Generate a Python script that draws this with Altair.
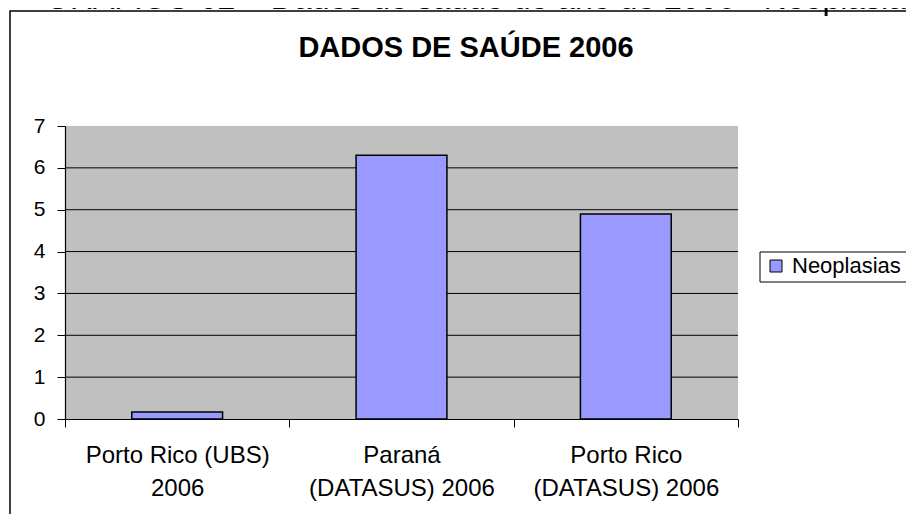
import json
import altair as alt
import pandas as pd

# ---- data ----
categories = ["Porto Rico (UBS) 2006", "Paraná (DATASUS) 2006", "Porto Rico (DATASUS) 2006"]
label_lines = [["Porto Rico (UBS)", "2006"], ["Paraná", "(DATASUS) 2006"], ["Porto Rico", "(DATASUS) 2006"]]
values = [0.17, 6.3, 4.9]
series_name = "Neoplasias"
y_ticks = [0, 1, 2, 3, 4, 5, 6, 7]
grid_values = [1, 2, 3, 4, 5, 6]
chart_title = "DADOS DE SAÚDE 2006"
page_caption = "GRÁFICO 02 – Dados de saúde do ano de 2006 - Neoplasias"

FONT = "Liberation Sans, Arial, sans-serif"

df = pd.DataFrame({"categoria": categories, "value": values, "serie": [series_name] * len(categories)})
grid_df = pd.DataFrame({"value": grid_values})
one = alt.Data(values=[{"k": 1}])

# label expression for wrapped axis labels
expr = "datum.label"
for cat, lines in reversed(list(zip(categories, label_lines))):
    expr = f"datum.label == {json.dumps(cat)} ? {json.dumps(lines)} : ({expr})"

x_enc = alt.X(
    "categoria:N",
    sort=categories,
    scale=alt.Scale(paddingInner=0, paddingOuter=0),
    axis=alt.Axis(
        title=None, labelExpr=expr, labelAngle=0, labelFontSize=24, labelFont=FONT,
        labelColor="black", labelPadding=16, labelLineHeight=33, tickBand="extent",
        tickSize=8, tickColor="black", domainColor="black", domainWidth=1.2,
        labelBaseline="top", labelLimit=400,
    ),
)
y_enc = alt.Y(
    "value:Q",
    scale=alt.Scale(domain=[0, 7], nice=False),
    axis=alt.Axis(
        title=None, values=y_ticks, grid=False, labelFontSize=21, labelFont=FONT,
        labelColor="black", labelPadding=12, tickSize=8, tickColor="black",
        domainColor="black", domainWidth=1.2,
    ),
)

grid = alt.Chart(grid_df).mark_rule(color="black", strokeWidth=1).encode(y=y_enc)

bars = alt.Chart(df).mark_bar(
    width=alt.RelativeBandSize(0.405), stroke="black", strokeWidth=1.5
).encode(
    x=x_enc,
    y=y_enc,
    color=alt.Color(
        "serie:N",
        scale=alt.Scale(range=["#9999FF"]),
        legend=alt.Legend(
            title=None, orient="none", legendX=700, legendY=129, symbolType="square",
            symbolSize=144, symbolStrokeColor="black", symbolStrokeWidth=1,
            labelFontSize=22, labelFont=FONT, labelColor="black", labelOffset=5,
            padding=0,
        ),
    ),
)

# decorative frame, caption, title, legend box
frame = alt.Chart(one).mark_rect(fill=None, stroke="black", strokeWidth=1.5).encode(
    x=alt.value(-55), x2=alt.value(1000), y=alt.value(-115), y2=alt.value(600)
)
legend_box = alt.Chart(one).mark_rect(fill="white", stroke="black", strokeWidth=1).encode(
    x=alt.value(695), x2=alt.value(900), y=alt.value(126), y2=alt.value(156)
)
caption = alt.Chart(one).mark_text(
    text=page_caption, font=FONT, fontSize=32, align="left", baseline="alphabetic", color="black"
).encode(x=alt.value(-20), y=alt.value(-117))
title = alt.Chart(one).mark_text(
    text=chart_title, font=FONT, fontSize=29, fontWeight="bold", align="center",
    baseline="alphabetic", color="black"
).encode(x=alt.value(401), y=alt.value(-69))

chart = alt.layer(frame, legend_box, caption, title, grid, bars).properties(
    width=673, height=293,
    autosize=alt.AutoSizeParams(type="none"),
    padding={"left": 57, "top": 118, "right": 168, "bottom": 95},
    background="white",
).configure_view(fill="#C0C0C0", stroke=None)

chart.save("out.html", embed_options={"renderer": "svg", "actions": False})
